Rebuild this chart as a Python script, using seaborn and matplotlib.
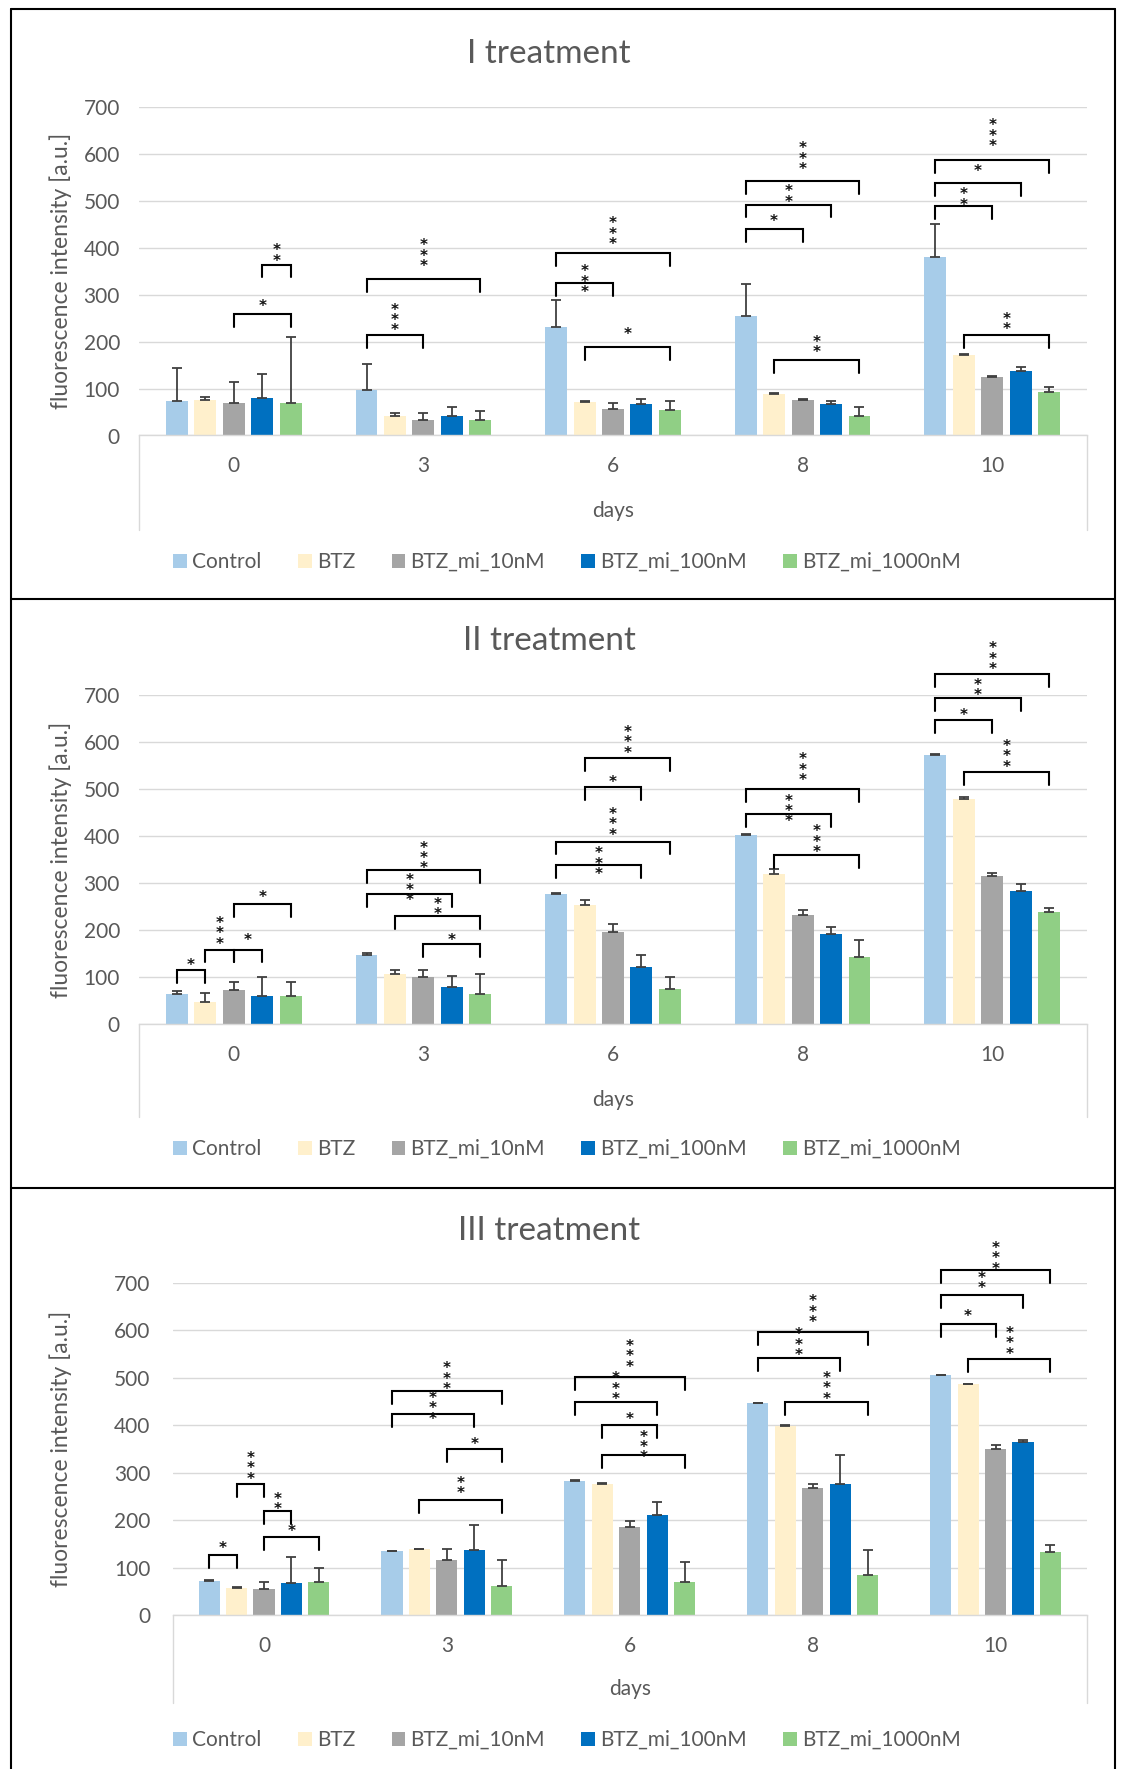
import numpy as np
import pandas as pd
import matplotlib
matplotlib.use("Agg")
import matplotlib.pyplot as plt
import seaborn as sns
from matplotlib.lines import Line2D

# ---------------------------------------------------------------- data
days = ["0", "3", "6", "8", "10"]
groups = ["Control", "BTZ", "BTZ_mi_10nM", "BTZ_mi_100nM", "BTZ_mi_1000nM"]
colors = ["#A7CCE9", "#FFF0CC", "#A5A5A5", "#0070C0", "#90CF85"]
titles = ["I treatment", "II treatment", "III treatment"]

# Treatment I: mean values per group (days 0, 3, 6, 8, 10)
t1_control = [74, 98, 231, 254, 380]
t1_btz = [75, 41, 72, 88, 171]
t1_mi10 = [70, 33, 57, 75, 125]
t1_mi100 = [80, 41, 67, 67, 137]
t1_mi1000 = [70, 33, 54, 42, 93]
# Treatment I: upper error
t1_control_err = [69, 54, 57, 68, 70]
t1_btz_err = [6, 6, 2, 2, 2]
t1_mi10_err = [45, 14, 12, 2, 2]
t1_mi100_err = [50, 19, 10, 6, 8]
t1_mi1000_err = [140, 20, 19, 19, 10]

# Treatment II
t2_control = [63, 146, 276, 403, 572]
t2_btz = [46, 107, 254, 319, 478]
t2_mi10 = [72, 100, 196, 232, 314]
t2_mi100 = [59, 78, 122, 191, 282]
t2_mi1000 = [59, 63, 75, 142, 238]
t2_control_err = [7, 5, 2, 2, 2]
t2_btz_err = [20, 7, 9, 11, 6]
t2_mi10_err = [18, 14, 16, 11, 8]
t2_mi100_err = [40, 24, 24, 16, 16]
t2_mi1000_err = [31, 44, 24, 36, 9]

# Treatment III
t3_control = [72, 134, 283, 447, 505]
t3_btz = [57, 139, 277, 398, 486]
t3_mi10 = [55, 117, 186, 267, 351]
t3_mi100 = [68, 137, 211, 277, 365]
t3_mi1000 = [70, 62, 70, 84, 133]
t3_control_err = [2, 1, 1, 1, 1]
t3_btz_err = [2, 1, 2, 2, 1]
t3_mi10_err = [15, 22, 12, 9, 8]
t3_mi100_err = [55, 52, 27, 60, 5]
t3_mi1000_err = [29, 54, 41, 53, 15]

# Significance brackets: (day index, group a, group b, bracket level, stars, star level)
t1_sig = [
    (0, 2, 4, 259, "*", 280), (0, 3, 4, 364, "**", 388),
    (1, 0, 2, 214, "***", 251), (1, 0, 4, 333, "***", 388),
    (2, 0, 2, 325, "***", 333), (2, 0, 4, 388, "***", 435), (2, 1, 4, 188, "*", 222),
    (3, 0, 2, 439, "*", 461), (3, 0, 3, 492, "**", 514), (3, 0, 4, 542, "***", 595),
    (3, 1, 4, 160, "**", 194),
    (4, 0, 2, 488, "**", 508), (4, 0, 3, 537, "*", 568), (4, 0, 4, 586, "***", 644),
    (4, 1, 4, 214, "**", 243),
]
t2_sig = [
    (0, 0, 1, 115, "*", 130), (0, 1, 2, 158, "***", 198), (0, 2, 3, 158, "*", 183),
    (0, 2, 4, 255, "*", 274),
    (1, 0, 4, 327, "***", 358), (1, 0, 3, 276, "***", 290), (1, 1, 4, 230, "**", 250),
    (1, 2, 4, 170, "*", 183),
    (2, 0, 3, 338, "***", 346), (2, 0, 4, 388, "***", 430), (2, 1, 3, 504, "*", 520),
    (2, 1, 4, 566, "***", 604),
    (3, 0, 4, 500, "***", 546), (3, 0, 3, 446, "***", 458), (3, 1, 4, 359, "***", 393),
    (4, 0, 2, 646, "*", 662), (4, 0, 3, 694, "**", 716), (4, 0, 4, 744, "***", 782),
    (4, 1, 4, 536, "***", 574),
]
t3_sig = [
    (0, 0, 1, 127, "*", 147), (0, 1, 2, 276, "***", 314), (0, 2, 3, 219, "**", 239),
    (0, 2, 4, 165, "*", 181),
    (1, 0, 4, 472, "***", 503), (1, 0, 3, 424, "***", 441), (1, 2, 4, 349, "*", 365),
    (1, 1, 4, 242, "**", 273),
    (2, 0, 4, 502, "***", 550), (2, 0, 3, 449, "***", 482), (2, 1, 3, 400, "*", 418),
    (2, 1, 4, 337, "***", 359),
    (3, 0, 4, 596, "***", 644), (3, 0, 3, 542, "***", 575), (3, 1, 4, 449, "***", 483),
    (4, 0, 2, 613, "*", 636), (4, 0, 3, 674, "**", 705), (4, 0, 4, 728, "***", 757),
    (4, 1, 4, 539, "***", 578),
]

panels_data = [
    ([t1_control, t1_btz, t1_mi10, t1_mi100, t1_mi1000],
     [t1_control_err, t1_btz_err, t1_mi10_err, t1_mi100_err, t1_mi1000_err], t1_sig),
    ([t2_control, t2_btz, t2_mi10, t2_mi100, t2_mi1000],
     [t2_control_err, t2_btz_err, t2_mi10_err, t2_mi100_err, t2_mi1000_err], t2_sig),
    ([t3_control, t3_btz, t3_mi10, t3_mi100, t3_mi1000],
     [t3_control_err, t3_btz_err, t3_mi10_err, t3_mi100_err, t3_mi1000_err], t3_sig),
]

# ---------------------------------------------------------------- style
sns.set_style("white")
plt.rcParams["font.family"] = ["Lato", "DejaVu Sans"]
TXT = "#595959"
GRID = "#D9D9D9"

W, H = 1121, 1769
fig = plt.figure(figsize=(W / 100, H / 100), dpi=100)

# pixel layout of each panel: plot rect (l, t, r, b), title y, legend y,
# tick-label pad, "days" offset, box depth
layout = [
    dict(rect=(139, 107, 1087, 435.5), title_y=54, legend_y=562, ypad=13.7,
         days_off=75.5, box=94.5),
    dict(rect=(139, 695, 1087, 1024), title_y=641, legend_y=1149, ypad=13.7,
         days_off=76, box=93),
    dict(rect=(172.5, 1283, 1087, 1615), title_y=1231, legend_y=1740, ypad=16,
         days_off=73.5, box=88),
]

LEG = 27  # bracket leg length in data units

for (means, errs, sig), lay, title in zip(panels_data, layout, titles):
    l, t, r, b = lay["rect"]
    axw, axh = r - l, b - t
    ax = fig.add_axes([l / W, 1 - b / H, axw / W, axh / H])

    df = pd.DataFrame(
        [(d, g, v) for g, vals in zip(groups, means) for d, v in zip(days, vals)],
        columns=["day", "group", "value"],
    )
    sns.barplot(data=df, x="day", y="value", hue="group", order=days,
                hue_order=groups, palette=colors, saturation=1, width=0.75,
                gap=0.23, errorbar=None, ax=ax, linewidth=0, zorder=2)

    centers = np.array([[p.get_x() + p.get_width() / 2 for p in c.patches]
                        for c in ax.containers])

    for gi in range(len(groups)):
        ax.errorbar(centers[gi], means[gi],
                    yerr=[np.zeros(len(days)), errs[gi]], fmt="none",
                    ecolor="#404040", elinewidth=1.3, capsize=3.6,
                    capthick=1.3, zorder=3)

    for d, i, j, yv, lab, sy in sig:
        x1, x2 = centers[i][d], centers[j][d]
        ax.plot([x1, x1, x2, x2], [yv - LEG, yv, yv, yv - LEG], color="black",
                lw=1.5, clip_on=False, zorder=4, solid_joinstyle="miter")
        # stars stacked vertically, one per line
        ax.annotate("\n".join(lab), xy=((x1 + x2) / 2, sy), xytext=(0, -2),
                    textcoords="offset points", ha="center", va="center",
                    multialignment="center", linespacing=0.62,
                    fontsize=11, fontweight="bold", family="DejaVu Sans",
                    color="#111111", annotation_clip=False, zorder=5)

    ax.set_xlim(-0.5, len(days) - 0.5)
    ax.set_ylim(0, 700)
    ax.set_yticks(range(0, 701, 100))
    ax.yaxis.grid(True, color=GRID, lw=1)
    ax.set_axisbelow(True)
    for s in ("top", "right", "left"):
        ax.spines[s].set_visible(False)
    ax.spines["bottom"].set_color(GRID)
    ax.spines["bottom"].set_linewidth(1)
    ax.tick_params(axis="y", length=0, pad=lay["ypad"], labelsize=15,
                   labelcolor=TXT)
    ax.tick_params(axis="x", length=0, pad=15, labelsize=15, labelcolor=TXT)

    ax.set_xlabel("days", fontsize=15, color=TXT)
    ax.xaxis.set_label_coords(0.5, -lay["days_off"] / axh)
    ax.xaxis.label.set_va("center")
    ax.set_ylabel("fluorescence intensity [a.u.]", fontsize=16.5, color=TXT)
    ax.yaxis.set_label_coords((61 - l) / axw, 0.5)
    ax.yaxis.label.set_va("center")

    # category box under the axis
    for xx in (0, 1):
        ax.plot([xx, xx], [0, -lay["box"] / axh], transform=ax.transAxes,
                color=GRID, lw=1, clip_on=False)

    sns.move_legend(ax, "center",
                    bbox_to_anchor=((567 - l) / axw, -(lay["legend_y"] - b) / axh),
                    ncol=5, frameon=False, title=None, fontsize=15,
                    handlelength=0.65, handleheight=0.65, handletextpad=0.25,
                    columnspacing=1.75, labelcolor=TXT)

    fig.text(549 / W, 1 - lay["title_y"] / H, title, ha="center", va="center",
             fontsize=24, color=TXT)

# panel frames
def fline(x1, y1, x2, y2):
    fig.add_artist(Line2D([x1 / W, x2 / W], [1 - y1 / H, 1 - y2 / H],
                          color="black", lw=1.5))

for yy in (9.5, 599.5, 1188):
    fline(11, yy, 1114.5, yy)
fline(11, 9.5, 11, H + 2)
fline(1114.5, 9.5, 1114.5, H + 2)

fig.savefig("out.png", dpi=100)
